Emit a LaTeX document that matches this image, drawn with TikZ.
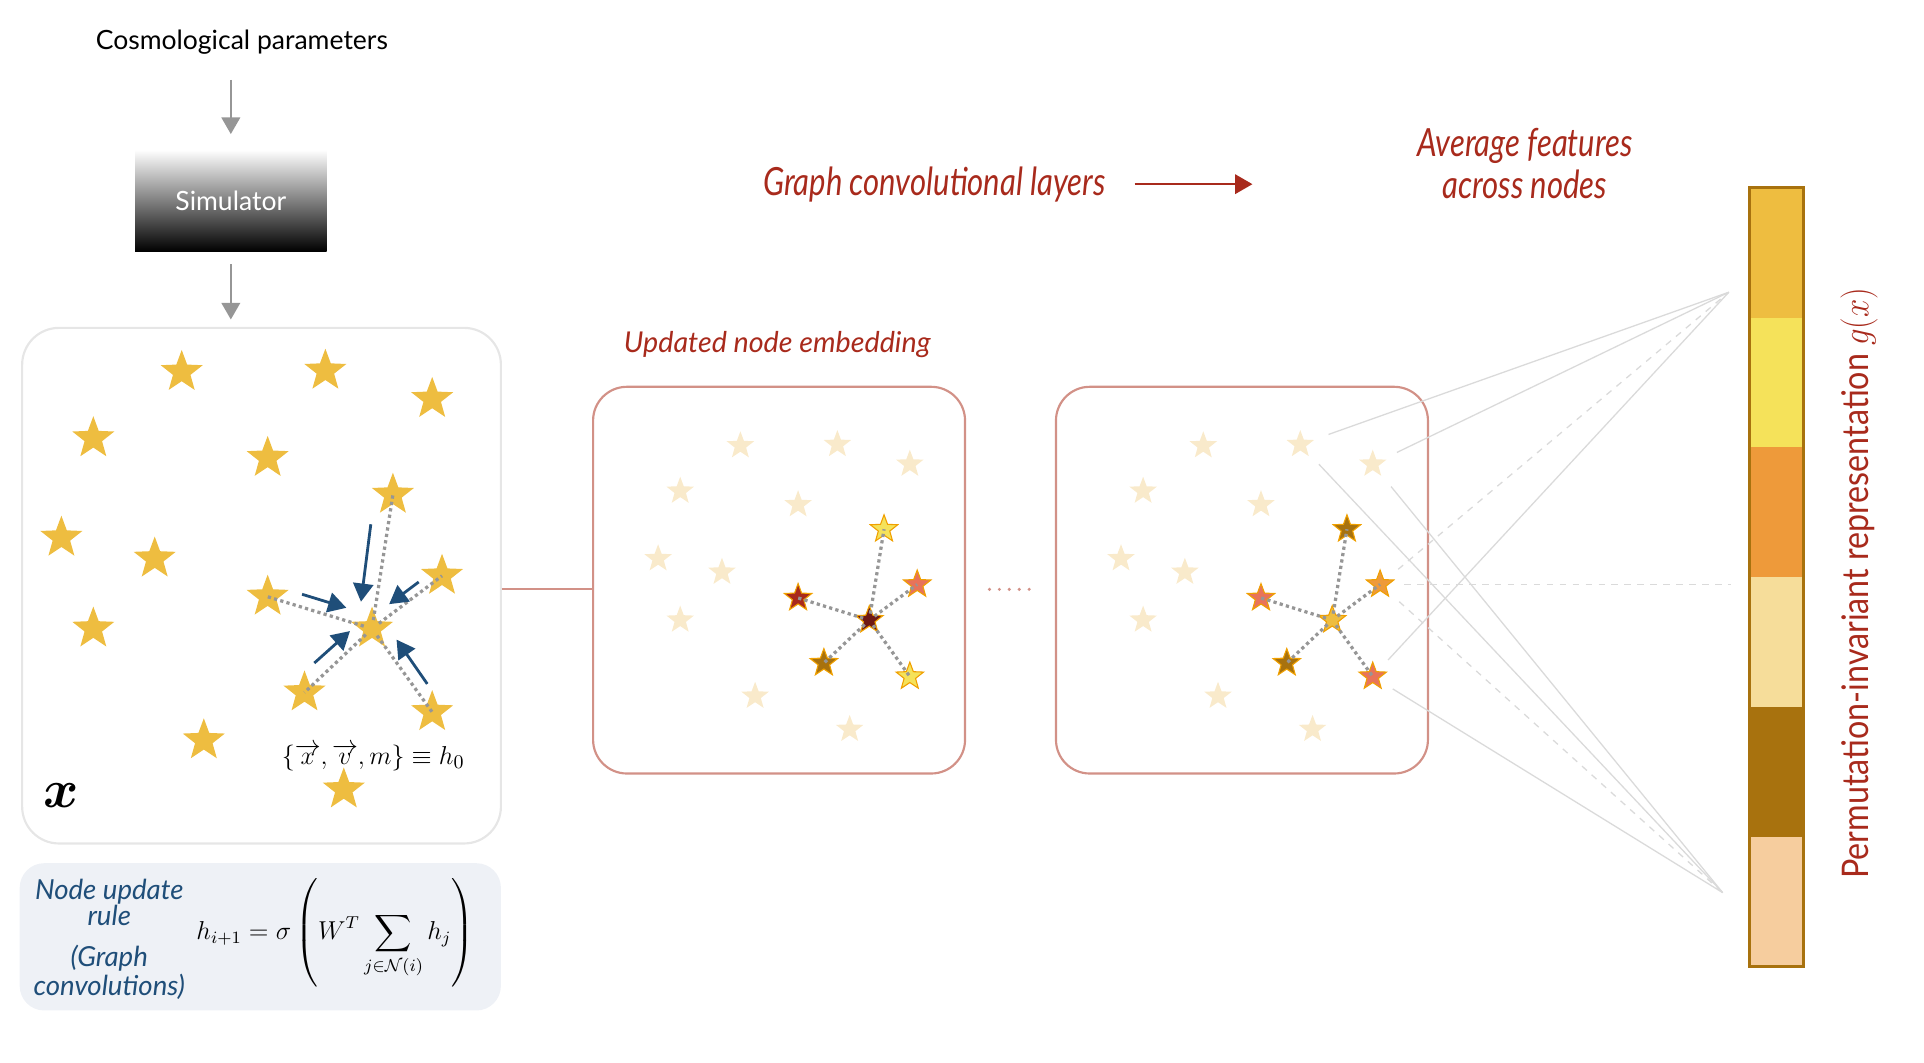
\documentclass[tikz,border=0pt]{standalone}
\usepackage{amsmath}
\usepackage{graphicx}
\usepackage[no-math]{fontspec}
\setmainfont{Lato}
\usetikzlibrary{arrows, calc, shapes.geometric}
\definecolor{mygold}{RGB}{238,189,64}
\definecolor{myyellow}{RGB}{245,226,90}
\definecolor{myorange}{RGB}{238,154,58}
\definecolor{mycream}{RGB}{246,221,154}
\definecolor{mybrown}{RGB}{168,114,14}
\definecolor{mypeach}{RGB}{246,205,158}
\definecolor{mysalmon}{RGB}{232,115,90}
\definecolor{myrust}{RGB}{168,42,28}
\definecolor{mymaroon}{RGB}{110,25,20}
\definecolor{myborder}{RGB}{210,145,135}
\definecolor{mypale}{RGB}{249,234,203}
\definecolor{myfill}{RGB}{238,241,246}
\definecolor{myblue}{RGB}{31,78,121}
\definecolor{mygray}{RGB}{150,150,150}
\definecolor{mylight}{RGB}{218,218,218}
\definecolor{myframe}{RGB}{230,230,230}
\definecolor{myrim}{RGB}{240,160,0}
\newcommand{\narrow}[1]{\scalebox{0.8}[1]{#1}}
\tikzstyle{plain} = [font=\fontsize{12.3}{14}\selectfont]
\tikzstyle{sim} = [minimum width=3.12cm, minimum height=1.66cm, inner sep=0,
    top color=white, bottom color=black, text=white, font=\fontsize{12.3}{14}\selectfont]
\tikzstyle{feed} = [-triangle 60, mygray, line width=1.1pt]
\tikzstyle{panel} = [draw=myframe, line width=1pt, rounded corners=0.6cm,
    minimum width=7.8cm, minimum height=8.4cm]
\tikzstyle{embox} = [draw=myborder, line width=1pt, rounded corners=0.55cm,
    minimum width=6.06cm, minimum height=6.3cm]
\tikzstyle{rulebox} = [fill=myfill, rounded corners=0.4cm,
    minimum width=7.84cm, minimum height=2.4cm]
\tikzstyle{bigstar} = [star, star points=5, star point ratio=2.4,
    minimum size=0.72cm, inner sep=0, fill=mygold]
\tikzstyle{smallstar} = [star, star points=5, star point ratio=2.4,
    minimum size=0.47cm, inner sep=0, fill=mypale]
\tikzstyle{hot} = [draw=myrim, line width=0.5pt]
\tikzstyle{link} = [mygray, line width=1.5pt, dash pattern=on 1.5pt off 1.5pt]
\tikzstyle{push} = [-triangle 60, myblue, line width=1.3pt]
\tikzstyle{redtext} = [text=myrust, font=\fontsize{18}{19.5}\selectfont\itshape, align=center]
\tikzstyle{bluetext} = [text=myblue, font=\fontsize{12.8}{12}\selectfont\itshape, align=center]
\tikzstyle{fan} = [mylight, line width=0.6pt, shorten <=0.25cm]
\tikzstyle{fandash} = [mylight, line width=0.6pt, dash pattern=on 3pt off 3pt, shorten <=0.25cm]
\tikzstyle{cell} = [minimum width=0.88cm, minimum height=2.113cm, inner sep=0, outer sep=0]

\begin{document}
\begin{tikzpicture}[x=0.02cm, y=-0.02cm]
\useasboundingbox (0,0) rectangle (1567,865);

%%% simulator
\node[plain] (params) at (197,34) {Cosmological parameters};
\node[sim] (sim) at (188,163.5) {Simulator};
\node[panel] (input) at (213,477) {};
\draw[feed, shorten <=0.3cm, shorten >=0.25cm] (params.south -| sim) -- (sim);
\draw[feed, shorten <=0.2cm, shorten >=0.12cm] (sim) -- (sim |- input.north);

%%% input stars
\node[bigstar] (a1) at (148,303) {};
\node[bigstar] (a2) at (265,302) {};
\node[bigstar] (a3) at (352,325) {};
\node[bigstar] (a4) at (76,357) {};
\node[bigstar] (a5) at (218,373) {};
\node[bigstar] (a6) at (320,403) {};
\node[bigstar] (a7) at (50,438) {};
\node[bigstar] (a8) at (126,455) {};
\node[bigstar] (a9) at (360,469) {};
\node[bigstar] (a10) at (218,486) {};
\node[bigstar] (a11) at (76,512) {};
\node[bigstar] (a12) at (303,512) {};
\node[bigstar] (a13) at (248,564) {};
\node[bigstar] (a14) at (352,580) {};
\node[bigstar] (a15) at (166,603) {};
\node[bigstar] (a16) at (280,643) {};
\draw[link, shorten <=4pt] (a12.center) -- (a6.center);
\draw[link, shorten <=4pt] (a12.center) -- (a9.center);
\draw[link, shorten <=4pt] (a12.center) -- (a10.center);
\draw[link, shorten <=4pt] (a12.center) -- (a13.center);
\draw[link, shorten <=4pt] (a12.center) -- (a14.center);
\draw[push] (302,427) -- (294,490);
\draw[push] (246,484) -- (282,495);
\draw[push] (341,474) -- (317,492);
\draw[push] (256,540) -- (285,514);
\draw[push] (348,557) -- (323,521);
\node[font=\fontsize{12.5}{14}\selectfont, inner sep=1pt] (h0) at (304,617) {$\{\overrightarrow{x},\overrightarrow{v},m\}\equiv h_0$};
\node[font=\fontsize{26}{28}\selectfont] (xlab) at (50,648) {$\boldsymbol{x}$};

%%% update rule
\node[rulebox] (rule) at (212,763) {};
\node[bluetext] (ruletxt) at (89,735) {Node update\\rule};
\node[bluetext] (gconv) at (89,792) {(Graph\\convolutions)};
\node[font=\fontsize{12}{14}\selectfont, inner sep=0] (formula) at (273,760)
    {$\displaystyle h_{i+1}=\sigma\left(\rule[-22pt]{0pt}{46pt}W^T\sum_{j\in\mathcal{N}(i)}h_j\right)$};

%%% graph layers
\node[embox] (emb) at (634.5,472.5) {};
\node[embox] (last) at (1011.5,472.5) {};
\node[redtext, font=\fontsize{13.3}{15}\selectfont\itshape] (embtxt) at (633,281) {Updated node embedding};
\draw[myborder, line width=1pt] (input.east |- 0,480) -- (emb.west |- 0,480);
\draw[myborder, line width=1.6pt, line cap=round, dash pattern=on 0pt off 4.6pt,
    shorten <=0.38cm, shorten >=0.36cm] (emb.east |- 0,480) -- (last.west |- 0,480);

\node[smallstar] (b1) at (603,363) {};
\node[smallstar] (b2) at (682,362) {};
\node[smallstar] (b3) at (741,378) {};
\node[smallstar] (b4) at (554,400) {};
\node[smallstar] (b5) at (650,411) {};
\node[smallstar] (b7) at (536,455) {};
\node[smallstar] (b8) at (588,466) {};
\node[smallstar] (b11) at (554,505) {};
\node[smallstar] (b15) at (615,567) {};
\node[smallstar] (b16) at (692,594) {};
\node[smallstar, hot, fill=myyellow] (b6) at (720,431) {};
\node[smallstar, hot, fill=mysalmon] (b9) at (747,476) {};
\node[smallstar, hot, fill=myrust] (b10) at (650,487) {};
\node[smallstar, hot, fill=mymaroon] (b12) at (708,505) {};
\node[smallstar, hot, fill=mybrown] (b13) at (671,540) {};
\node[smallstar, hot, fill=myyellow] (b14) at (741,551) {};
\draw[link, shorten <=3pt] (b12.center) -- (b6.center);
\draw[link, shorten <=3pt] (b12.center) -- (b9.center);
\draw[link, shorten <=3pt] (b12.center) -- (b10.center);
\draw[link, shorten <=3pt] (b12.center) -- (b13.center);
\draw[link, shorten <=3pt] (b12.center) -- (b14.center);

\node[smallstar] (c1) at (980,363) {};
\node[smallstar] (c2) at (1059,362) {};
\node[smallstar] (c3) at (1118,378) {};
\node[smallstar] (c4) at (931,400) {};
\node[smallstar] (c5) at (1027,411) {};
\node[smallstar] (c7) at (913,455) {};
\node[smallstar] (c8) at (965,466) {};
\node[smallstar] (c11) at (931,505) {};
\node[smallstar] (c15) at (992,567) {};
\node[smallstar] (c16) at (1069,594) {};
\node[smallstar, hot, fill=mybrown] (c6) at (1097,431) {};
\node[smallstar, hot, fill=myorange] (c9) at (1124,476) {};
\node[smallstar, hot, fill=mysalmon] (c10) at (1027,487) {};
\node[smallstar, hot, fill=mygold] (c12) at (1085,505) {};
\node[smallstar, hot, fill=mybrown] (c13) at (1048,540) {};
\node[smallstar, hot, fill=mysalmon] (c14) at (1118,551) {};
\draw[link, shorten <=3pt] (c12.center) -- (c6.center);
\draw[link, shorten <=3pt] (c12.center) -- (c9.center);
\draw[link, shorten <=3pt] (c12.center) -- (c10.center);
\draw[link, shorten <=3pt] (c12.center) -- (c13.center);
\draw[link, shorten <=3pt] (c12.center) -- (c14.center);

\node[redtext] (gcl) at (761,150) {\narrow{Graph convolutional layers}};
\coordinate (gclend) at (1020,150);
\draw[-triangle 60, myrust, line width=1.2pt, shorten <=0.35cm] (gcl) -- (gclend);
\node[redtext] (avg) at (1242,133) {\narrow{Average features}\\\narrow{across nodes}};

%%% pooled vector
\node[cell, fill=mygold] (bar1) at (1447,205.8) {};
\node[cell, fill=myyellow] (bar2) at (1447,311.5) {};
\node[cell, fill=myorange] (bar3) at (1447,417.2) {};
\node[cell, fill=mycream] (bar4) at (1447,522.8) {};
\node[cell, fill=mybrown] (bar5) at (1447,628.5) {};
\node[cell, fill=mypeach] (bar6) at (1447,734.2) {};
\draw[mybrown, line width=1.3pt] (bar1.north west) rectangle (bar6.south east);
\node[rotate=90, text=myrust, font=\fontsize{17}{19}\selectfont] (glab) at (1514,475)
    {\scalebox{0.88}[1]{Permutation-invariant representation $g(x)$}};

\coordinate (gtop) at (1408,238);
\coordinate (gmid) at (1410,476);
\coordinate (gbot) at (1403,727);
\draw[fan] (c2) -- (gtop);
\draw[fan] (c2) -- (gbot);
\draw[fan] (c3) -- (gtop);
\draw[fan] (c3) -- (gbot);
\draw[fan] (c14) -- (gtop);
\draw[fan] (c14) -- (gbot);
\draw[fandash] (c9) -- (gtop);
\draw[fandash] (c9) -- (gmid);
\draw[fandash] (c9) -- (gbot);

\end{tikzpicture}
\end{document}
